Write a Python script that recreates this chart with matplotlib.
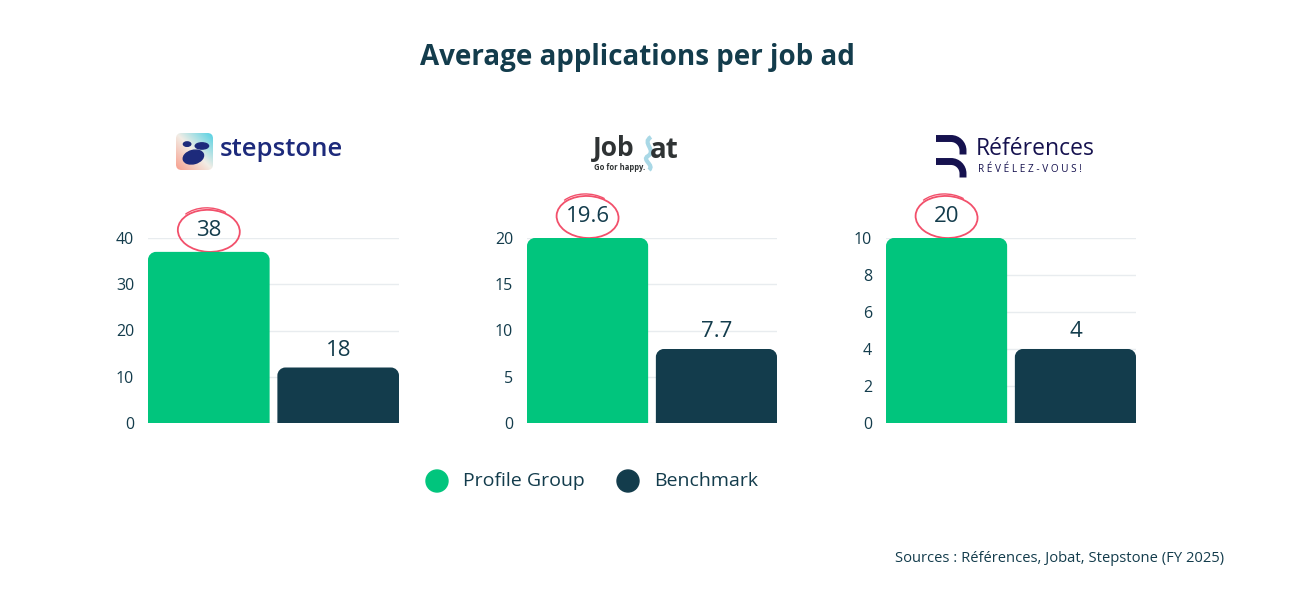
import numpy as np
import matplotlib.pyplot as plt
from matplotlib.patches import Ellipse, Arc, PathPatch, Circle, FancyBboxPatch
from matplotlib.path import Path
from matplotlib.transforms import IdentityTransform

W, H = 1300, 600

# data
platforms = ["Stepstone", "Jobat", "Références"]
series = ["Profile Group", "Benchmark"]
bar_heights = [[37, 12], [20, 8], [10, 4]]
value_labels = [["38", "18"], ["19.6", "7.7"], ["20", "4"]]
y_max = [40, 20, 10]
y_ticks = [[0, 10, 20, 30, 40], [0, 5, 10, 15, 20], [0, 2, 4, 6, 8, 10]]

GREEN = "#01c57d"
DARK = "#133c4c"
GRID = "#e8ecef"
RED = "#f2506b"
colors = [GREEN, DARK]

plt.rcParams["font.family"] = ["Open Sans", "DejaVu Sans"]

fig = plt.figure(figsize=(13, 6), dpi=100)
fig.patch.set_facecolor("white")
ID = IdentityTransform()


def px(x, y):
    # image pixel (y from top) -> display pixel
    return (x, H - y)


def round_top(ax, bar, radius=8):
    x0, y0 = ax.transData.transform((bar.get_x(), 0))
    x1, y1 = ax.transData.transform((bar.get_x() + bar.get_width(), bar.get_height()))
    r = min(radius, (x1 - x0) / 2, y1 - y0)
    k = 0.5523 * r
    verts = [(x0, y0), (x0, y1 - r), (x0, y1 - r + k), (x0 + r - k, y1), (x0 + r, y1),
             (x1 - r, y1), (x1 - r + k, y1), (x1, y1 - r + k), (x1, y1 - r),
             (x1, y0), (x0, y0)]
    codes = [Path.MOVETO, Path.LINETO, Path.CURVE4, Path.CURVE4, Path.CURVE4,
             Path.LINETO, Path.CURVE4, Path.CURVE4, Path.CURVE4,
             Path.LINETO, Path.CLOSEPOLY]
    p = PathPatch(Path(verts, codes), fc=bar.get_facecolor(), ec="none",
                  transform=ID, zorder=3, clip_on=False)
    fig.add_artist(p)
    bar.set_visible(False)


# axes boxes in image pixels: left, right
boxes = [(148, 399), (527, 777), (886, 1136)]
ax_bottom, ax_top = 423, 238
label_off = [22, 18]  # px above bar top

for k in range(3):
    l, r = boxes[k]
    ax = fig.add_axes([l / W, 1 - ax_bottom / H, (r - l) / W, (ax_bottom - ax_top) / H])
    bw = 0.94
    bars = ax.bar([0, 1], bar_heights[k], width=bw, color=colors)
    ax.set_xlim(-bw / 2, 1 + bw / 2)
    ax.set_ylim(0, y_max[k])
    ax.set_yticks(y_ticks[k])
    ax.set_xticks([])
    ax.yaxis.grid(True, color=GRID, lw=1)
    ax.set_axisbelow(True)
    for s in ax.spines.values():
        s.set_visible(False)
    ax.tick_params(axis="y", length=0, pad=10, labelsize=11.5, labelcolor=DARK)
    for i, b in enumerate(bars):
        round_top(ax, b)
        cx, cy = ax.transData.transform((i, bar_heights[k][i]))
        cy += label_off[i]
        fig.text(cx, cy - 1, value_labels[k][i], transform=ID, ha="center", va="center",
                 fontsize=16, color=DARK)
        if i == 0:
            fig.add_artist(Ellipse((cx, cy - 1), 62, 42, angle=-3, transform=ID,
                                   fill=False, ec=RED, lw=1.3))
            fig.add_artist(Arc((cx - 1, cy + 1), 60, 42, angle=-3, theta1=45, theta2=150,
                               transform=ID, ec=RED, lw=1.0))

# title
fig.text(637 / W, 1 - 57 / H, "Average applications per job ad", ha="center", va="center",
         fontsize=20, fontweight="bold", color=DARK)

# legend
leg_x = [437, 628]
for i, name in enumerate(series):
    fig.add_artist(Circle(px(leg_x[i], 481), 11, transform=ID, color=colors[i]))
    fig.text(*px(leg_x[i] + 26, 481), name, transform=ID, ha="left", va="center",
             fontsize=14, color=DARK)

# sources
fig.text(*px(1224, 559), "Sources : Références, Jobat, Stepstone (FY 2025)", transform=ID,
         ha="right", va="center", fontsize=10.6, color=DARK)

# ---- stepstone logo
ax_icon = fig.add_axes([176 / W, 1 - 170 / H, 37 / W, 37 / H])
g = np.linspace(0, 1, 64)
X, Y = np.meshgrid(g, g)
w = (X + Y) / 2
salmon = np.array([0.97, 0.62, 0.55])
pale = np.array([0.95, 0.93, 0.90])
cyan = np.array([0.33, 0.82, 0.89])
lo = np.clip(w * 2, 0, 1)[..., None]
hi = np.clip(w * 2 - 1, 0, 1)[..., None]
img = np.where(w[..., None] < 0.5, salmon * (1 - lo) + pale * lo, pale * (1 - hi) + cyan * hi)
im = ax_icon.imshow(img, extent=(0, 1, 0, 1), origin="lower")
clip = FancyBboxPatch((0, 0), 1, 1, boxstyle="round,pad=0,rounding_size=0.15",
                      transform=ax_icon.transData, fc="none", ec="none")
ax_icon.add_patch(clip)
im.set_clip_path(clip)
NAVY = "#1d2a7b"
ax_icon.add_patch(Ellipse((0.30, 0.70), 0.20, 0.12, color=NAVY))
ax_icon.add_patch(Ellipse((0.70, 0.65), 0.36, 0.17, color=NAVY))
ax_icon.add_patch(Ellipse((0.47, 0.35), 0.56, 0.36, angle=15, color=NAVY))
ax_icon.set_xlim(0, 1)
ax_icon.set_ylim(0, 1)
ax_icon.axis("off")
fig.text(*px(220, 150), "stepstone", transform=ID, ha="left", va="center",
         fontsize=18.5, color=NAVY, fontweight="semibold")

# ---- jobat logo
JG = "#2f3334"
fig.text(*px(593, 148), "Job", transform=ID, ha="left", va="center", fontsize=19,
         fontweight="bold", color=JG)
fig.text(*px(650, 150), "at", transform=ID, ha="left", va="center", fontsize=20,
         fontweight="bold", color=JG)
sq = Path([px(651, 137), px(641, 143), px(657, 150), px(648, 156),
           px(641, 160), px(655, 165), px(649, 170)],
          [Path.MOVETO, Path.CURVE4, Path.CURVE4, Path.CURVE4,
           Path.CURVE4, Path.CURVE4, Path.CURVE4])
fig.add_artist(PathPatch(sq, fc="none", ec="#a9d8e6", lw=3, transform=ID))
fig.text(*px(594, 168), "Go for happy.", transform=ID, ha="left", va="center",
         fontsize=5.5, fontweight="bold", color=JG)

# ---- références logo
RN = "#16124f"
for top in (138.5, 161.5):
    rr = 12
    pth = Path([px(936, top), px(951, top), px(951 + rr * 0.55, top),
                px(963, top + rr - rr * 0.55), px(963, top + rr), px(963, top + rr + 4)],
               [Path.MOVETO, Path.LINETO, Path.CURVE4, Path.CURVE4, Path.CURVE4, Path.LINETO])
    fig.add_artist(PathPatch(pth, fc="none", ec=RN, lw=5, capstyle="butt", transform=ID))
fig.text(*px(976, 149), "Références", transform=ID, ha="left", va="center", fontsize=16.5,
         color=RN, fontweight="medium")
fig.text(*px(978, 170), " ".join("RÉVÉLEZ-VOUS!"), transform=ID, ha="left", va="center",
         fontsize=7.2, color=RN)

fig.savefig("out.png", dpi=100, facecolor="white")
